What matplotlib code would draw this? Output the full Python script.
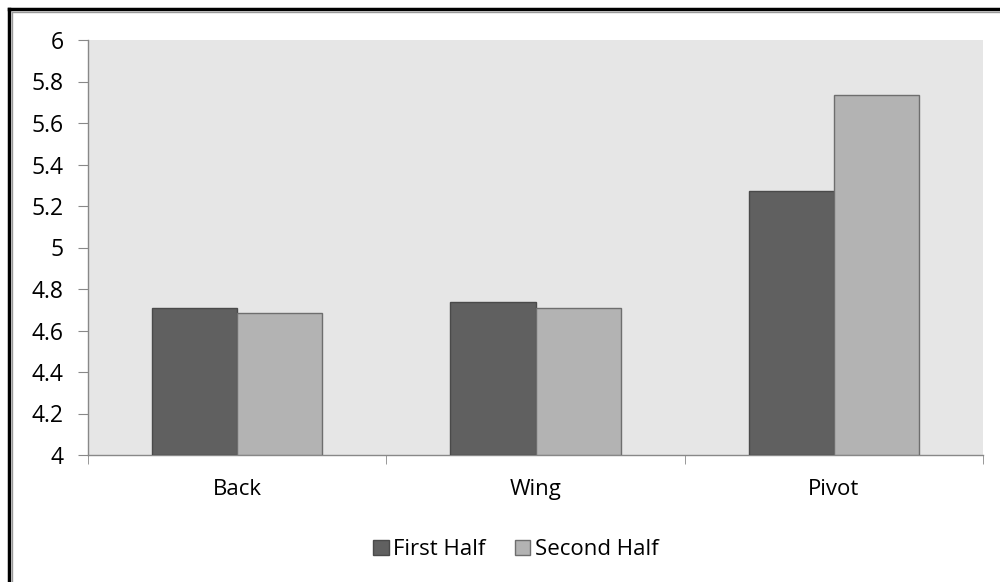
import numpy as np
import matplotlib.pyplot as plt
from matplotlib.lines import Line2D

positions = ['Back', 'Wing', 'Pivot']
first_half = [4.71, 4.735, 5.272]
second_half = [4.683, 4.708, 5.735]

plt.rcParams['font.family'] = ['Open Sans', 'DejaVu Sans']

fig = plt.figure(figsize=(10, 5.82), dpi=100)
ax = fig.add_axes([0.088, 1 - 455 / 582, 0.895, 415 / 582])
ax.set_facecolor('#e6e6e6')

x = np.arange(len(positions))
w = 1 / 3.5
ax.bar(x - w / 2, [v - 4 for v in first_half], w, bottom=4, color='#606060',
       edgecolor='#4a4a4a', linewidth=1, label='First Half', zorder=3)
ax.bar(x + w / 2, [v - 4 for v in second_half], w, bottom=4, color='#b3b3b3',
       edgecolor='#6e6e6e', linewidth=1, label='Second Half', zorder=3)

ax.set_xlim(-0.5, 2.5)
ax.set_ylim(4, 6)
ax.set_yticks(np.arange(4, 6.01, 0.2))
ax.set_yticklabels(['4', '4.2', '4.4', '4.6', '4.8', '5', '5.2', '5.4', '5.6', '5.8', '6'])
ax.set_xticks(x)
ax.set_xticklabels(positions)
ax.set_xticks([-0.5, 0.5, 1.5, 2.5], minor=True)
ax.tick_params(axis='x', which='major', length=0, pad=17, labelsize=16)
ax.tick_params(axis='x', which='minor', length=6.5, color='#888888', direction='out')
ax.tick_params(axis='y', length=7.2, color='#888888', direction='out', pad=10.5, labelsize=16.5)

for s in ['top', 'right']:
    ax.spines[s].set_visible(False)
for s in ['left', 'bottom']:
    ax.spines[s].set_color('#888888')
    ax.spines[s].set_linewidth(1)

ax.legend(loc='upper center', bbox_to_anchor=(0.478, -0.155), ncol=2, frameon=False,
          fontsize=16, handlelength=0.7, handleheight=0.7, handletextpad=0.2,
          columnspacing=1.3)

# outer chart frame
fig.add_artist(Line2D([9 / 1000, 9 / 1000], [0, 1 - 9 / 582], color='black', lw=2.5))
fig.add_artist(Line2D([9 / 1000, 1], [1 - 9 / 582, 1 - 9 / 582], color='black', lw=2.5))
fig.add_artist(Line2D([12 / 1000, 12 / 1000], [0, 1 - 12 / 582], color='#999999', lw=1))
fig.add_artist(Line2D([12 / 1000, 1], [1 - 12 / 582, 1 - 12 / 582], color='#999999', lw=1))

fig.savefig('out.png', dpi=100)
